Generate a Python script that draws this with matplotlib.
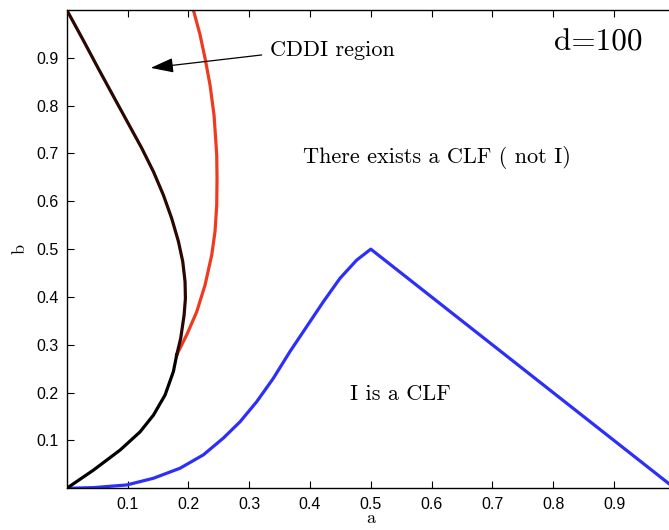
import matplotlib.pyplot as plt

# Boundary of the CDDI region, lower part (black) and upper part (dark)
black_low_a = [0.0, 0.0438, 0.0877, 0.1205, 0.1425, 0.1616, 0.1753, 0.1808]
black_low_b = [0.0, 0.038, 0.080, 0.118, 0.153, 0.195, 0.244, 0.279]
black_up_a = [0.1808, 0.1874, 0.1929, 0.1951, 0.1945, 0.1907, 0.1836, 0.1726,
              0.1589, 0.1425, 0.1233, 0.1014, 0.0767, 0.0521, 0.0274, 0.0]
black_up_b = [0.279, 0.314, 0.362, 0.397, 0.432, 0.474, 0.516, 0.564,
              0.613, 0.662, 0.711, 0.762, 0.8195, 0.877, 0.936, 1.0]

# Red boundary
red_a = [0.1808, 0.1973, 0.2137, 0.2274, 0.2384, 0.2438, 0.2466, 0.2471,
         0.2466, 0.2422, 0.2356, 0.2274, 0.2192, 0.2082]
red_b = [0.279, 0.321, 0.369, 0.425, 0.488, 0.537, 0.592, 0.648,
         0.697, 0.780, 0.843, 0.899, 0.948, 1.0]

# Region where I is a CLF (blue boundary)
blue_a = [0.0, 0.0438, 0.0986, 0.1425, 0.1863, 0.2247, 0.2575, 0.2849, 0.3123,
          0.3397, 0.3671, 0.3945, 0.4219, 0.4493, 0.4767, 0.5, 1.0]
blue_b = [0.0, 0.0014, 0.007, 0.021, 0.042, 0.070, 0.105, 0.139, 0.181,
          0.230, 0.286, 0.338, 0.390, 0.439, 0.477, 0.5, 0.0]

ticks = [0.1, 0.2, 0.3, 0.4, 0.5, 0.6, 0.7, 0.8, 0.9]
tick_labels = ["0.1", "0.2", "0.3", "0.4", "0.5", "0.6", "0.7", "0.8", "0.9"]

plt.rcParams["font.family"] = ["Liberation Sans", "DejaVu Sans"]
serif = "cmr10"

fig = plt.figure(figsize=(6.69, 5.30), dpi=100)
ax = fig.add_axes([66.8 / 669, 1 - 488.3 / 530, 608 / 669, 478.3 / 530])

ax.plot(red_a, red_b, color="#ee3b1f", linewidth=2.3, zorder=2,
        solid_joinstyle="round")
ax.plot(black_low_a, black_low_b, color="black", linewidth=2.3, zorder=3,
        solid_joinstyle="round")
ax.plot(black_up_a, black_up_b, color="#2a0700", linewidth=2.3, zorder=3,
        solid_joinstyle="round")
ax.plot(blue_a, blue_b, color="#2e2efa", linewidth=2.3, zorder=2,
        solid_joinstyle="round")

ax.set_xlim(0, 1)
ax.set_ylim(0, 1)
ax.set_xticks(ticks)
ax.set_xticklabels(tick_labels)
ax.set_yticks(ticks)
ax.set_yticklabels(tick_labels)
ax.tick_params(direction="in", top=True, right=False, labelsize=11.5,
               length=5, width=0.8, pad=6)
for s in ax.spines.values():
    s.set_linewidth(1.0)

ax.set_xlabel("a", fontfamily=serif, fontsize=13, labelpad=-1)
ax.set_ylabel("b", fontfamily=serif, fontsize=13, labelpad=6)

ax.annotate("", xy=(0.138, 0.879), xytext=(0.3205, 0.906),
            arrowprops=dict(arrowstyle="-|>,head_length=1.4,head_width=0.45",
                            color="black", linewidth=0.9, shrinkA=0, shrinkB=0))
ax.text(0.334, 0.916, "CDDI region", fontfamily=serif, fontsize=16,
        ha="left", va="center")
ax.text(0.874, 0.932, "d=100", fontfamily=serif, fontsize=22.5,
        ha="center", va="center")
ax.text(0.608, 0.692, "There exists a CLF ( not I)", fontfamily=serif,
        fontsize=16, ha="center", va="center")
ax.text(0.549, 0.197, "I is a CLF", fontfamily=serif, fontsize=16,
        ha="center", va="center")

fig.savefig("out.png", dpi=100)
